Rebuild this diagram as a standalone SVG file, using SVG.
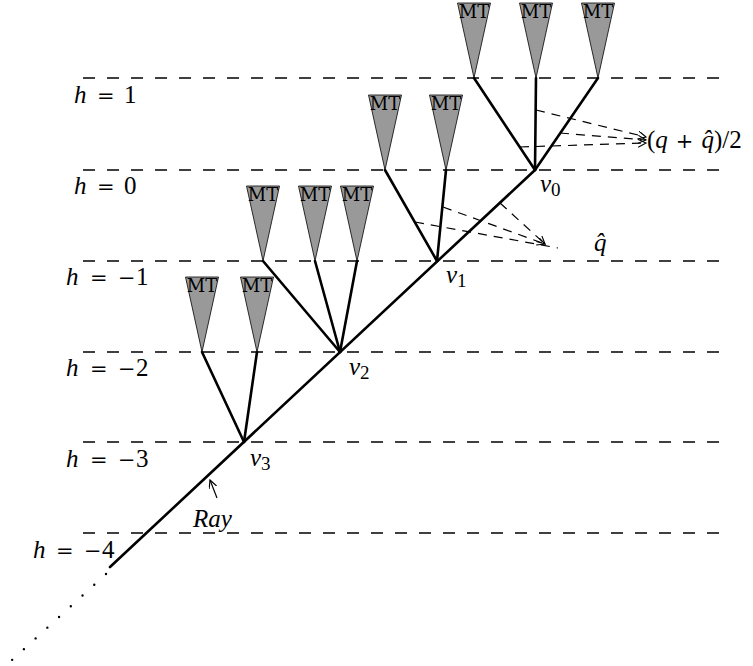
<svg xmlns="http://www.w3.org/2000/svg" width="753" height="666" viewBox="0 0 753 666">
<style>
.lvl{stroke:#000;stroke-width:1.3;stroke-dasharray:12 12;fill:none}
.br{stroke:#000;stroke-width:2.6;fill:none;stroke-linecap:round}
.tri{fill:#999;stroke:#000;stroke-width:0.8}
.mt{font-family:"DejaVu Serif",serif;font-size:18px;text-anchor:middle;fill:#000}
.ptr{stroke:#000;stroke-width:1.2;stroke-dasharray:9 7;fill:none}
.m{font-family:"Liberation Serif",serif;font-size:25px;fill:#000}
.i{font-style:italic}
.op{font-family:"DejaVu Serif",serif;font-size:21px}
.sub{font-family:"Liberation Serif",serif;font-size:19px}
</style>
<defs>
<marker id="ah" markerWidth="10" markerHeight="10" refX="8" refY="4" orient="auto" markerUnits="userSpaceOnUse">
<path d="M0,0 L8,4 L0,8" fill="none" stroke="#000" stroke-width="1.1"/>
</marker>
</defs>

<g id="levels">
<line class="lvl" x1="83" y1="78" x2="721" y2="78"/>
<line class="lvl" x1="83" y1="170" x2="721" y2="170"/>
<line class="lvl" x1="83" y1="261" x2="721" y2="261"/>
<line class="lvl" x1="83" y1="352" x2="721" y2="352"/>
<line class="lvl" x1="83" y1="442" x2="721" y2="442"/>
<line class="lvl" x1="83" y1="533" x2="721" y2="533"/>
</g>

<g id="level-labels">
<text class="m" y="103"><tspan class="i" x="74">h</tspan><tspan class="op" x="97">=</tspan><tspan x="124">1</tspan></text>
<text class="m" y="194"><tspan class="i" x="74">h</tspan><tspan class="op" x="97">=</tspan><tspan x="124">0</tspan></text>
<text class="m" y="285"><tspan class="i" x="66">h</tspan><tspan class="op" x="90">=</tspan><tspan class="op" x="118">−</tspan><tspan x="136">1</tspan></text>
<text class="m" y="376"><tspan class="i" x="66">h</tspan><tspan class="op" x="90">=</tspan><tspan class="op" x="118">−</tspan><tspan x="136">2</tspan></text>
<text class="m" y="467"><tspan class="i" x="66">h</tspan><tspan class="op" x="90">=</tspan><tspan class="op" x="118">−</tspan><tspan x="136">3</tspan></text>
<text class="m" y="558"><tspan class="i" x="33">h</tspan><tspan class="op" x="56">=</tspan><tspan class="op" x="84">−</tspan><tspan x="102">4</tspan></text>
</g>

<g id="connectors">
<line class="br" x1="110" y1="567" x2="535" y2="170"/>
<line x1="106" y1="574" x2="12" y2="660" stroke="#000" stroke-width="2.4" stroke-linecap="round" stroke-dasharray="0 15.9"/>
<line class="br" x1="535" y1="170" x2="474" y2="78"/>
<line class="br" x1="535" y1="170" x2="536" y2="78"/>
<line class="br" x1="535" y1="170" x2="598" y2="78"/>
<line class="br" x1="437" y1="261" x2="385" y2="170"/>
<line class="br" x1="437" y1="261" x2="446" y2="170"/>
<line class="br" x1="340" y1="352" x2="263" y2="261"/>
<line class="br" x1="340" y1="352" x2="315" y2="261"/>
<line class="br" x1="340" y1="352" x2="357" y2="261"/>
<line class="br" x1="244" y1="442" x2="202" y2="352"/>
<line class="br" x1="244" y1="442" x2="257" y2="352"/>
<line class="ptr" x1="536" y1="110" x2="646" y2="137" marker-end="url(#ah)"/>
<line class="ptr" x1="560" y1="133" x2="646" y2="140" marker-end="url(#ah)"/>
<line class="ptr" x1="520" y1="147" x2="646" y2="143" marker-end="url(#ah)"/>
<line class="ptr" x1="500" y1="203" x2="545" y2="244" marker-end="url(#ah)"/>
<line class="ptr" x1="443" y1="207" x2="545" y2="244" marker-end="url(#ah)"/>
<line class="ptr" x1="415" y1="222" x2="558" y2="248"/>
<line x1="217" y1="498" x2="210" y2="480" stroke="#000" stroke-width="1.2" marker-end="url(#ah)"/>
</g>

<g id="mt-h1-a"><polygon class="tri" points="457.5,3 490.5,3 474,78"/><text class="mt" x="474" y="18">MT</text></g>
<g id="mt-h1-b"><polygon class="tri" points="519.5,3 552.5,3 536,78"/><text class="mt" x="536" y="18">MT</text></g>
<g id="mt-h1-c"><polygon class="tri" points="581.5,3 614.5,3 598,78"/><text class="mt" x="598" y="18">MT</text></g>
<g id="mt-h0-a"><polygon class="tri" points="368.5,95 401.5,95 385,170"/><text class="mt" x="385" y="110">MT</text></g>
<g id="mt-h0-b"><polygon class="tri" points="429.5,95 462.5,95 446,170"/><text class="mt" x="446" y="110">MT</text></g>
<g id="mt-hm1-a"><polygon class="tri" points="246.5,186 279.5,186 263,261"/><text class="mt" x="263" y="201">MT</text></g>
<g id="mt-hm1-b"><polygon class="tri" points="298.5,186 331.5,186 315,261"/><text class="mt" x="315" y="201">MT</text></g>
<g id="mt-hm1-c"><polygon class="tri" points="340.5,186 373.5,186 357,261"/><text class="mt" x="357" y="201">MT</text></g>
<g id="mt-hm2-a"><polygon class="tri" points="185.5,277 218.5,277 202,352"/><text class="mt" x="202" y="292">MT</text></g>
<g id="mt-hm2-b"><polygon class="tri" points="240.5,277 273.5,277 257,352"/><text class="mt" x="257" y="292">MT</text></g>

<g id="v0"><text class="m i" x="540" y="192" font-size="27">v<tspan class="sub" font-style="normal" dy="4">0</tspan></text></g>
<g id="v1"><text class="m i" x="446" y="283" font-size="27">v<tspan class="sub" font-style="normal" dy="4">1</tspan></text></g>
<g id="v2"><text class="m i" x="349" y="375" font-size="27">v<tspan class="sub" font-style="normal" dy="4">2</tspan></text></g>
<g id="v3"><text class="m i" x="250" y="466" font-size="27">v<tspan class="sub" font-style="normal" dy="4">3</tspan></text></g>

<g id="ray-label"><text class="m i" x="193" y="527" font-size="30">Ray</text></g>
<g id="qhat-label"><text class="m i" x="594" y="251" font-size="27">q̂</text></g>
<g id="avg-label"><text class="m" x="647" y="148" font-size="27">(<tspan class="i">q</tspan><tspan class="op" font-size="23" dx="8">+</tspan><tspan class="i" dx="8">q̂</tspan>)/2</text></g>
</svg>
